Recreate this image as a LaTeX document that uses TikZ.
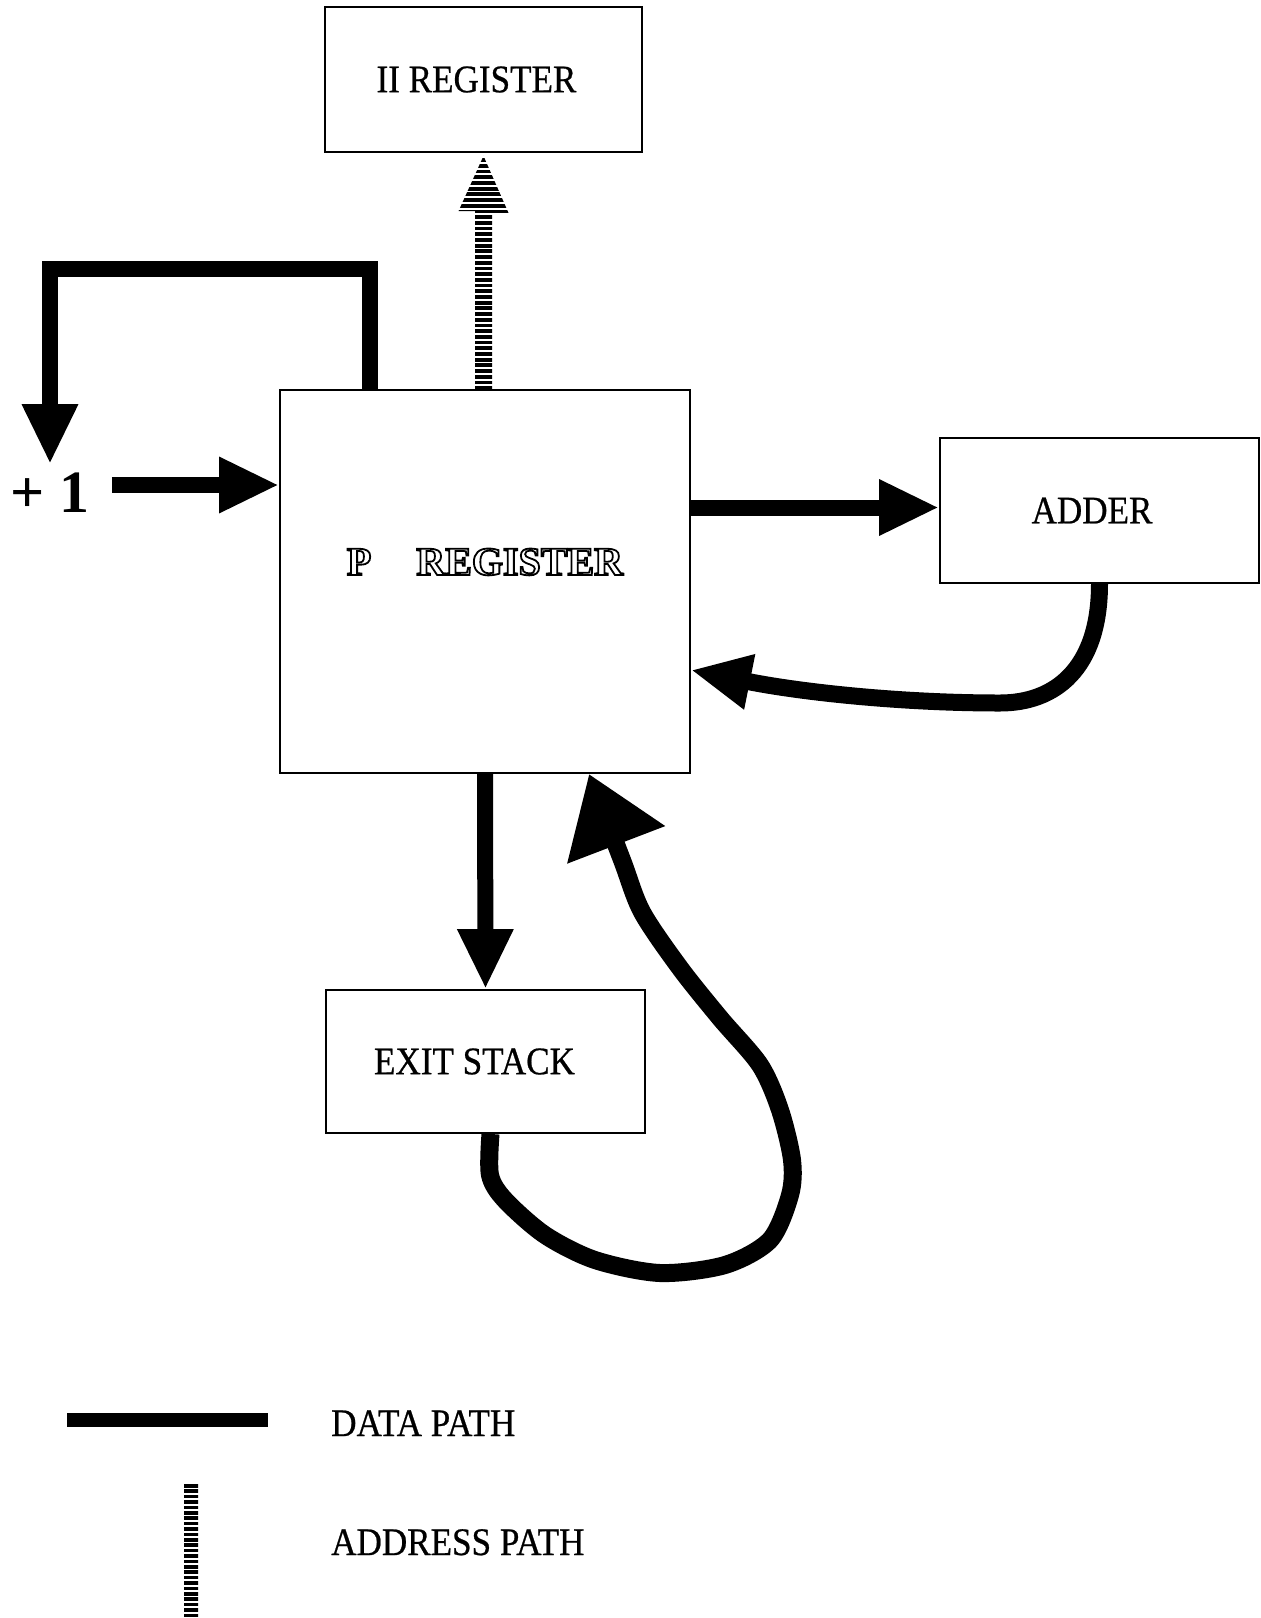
\documentclass[tikz,border=0pt]{standalone}
\usepackage{fontspec}
\setmainfont{Liberation Serif}
\newfontfamily\boxfont{Liberation Serif}[FakeStretch=0.9,FakeBold=0.6]
\usetikzlibrary{arrows.meta}
\newcommand\prtext{P\hspace{45pt}REGISTER}
\newcommand\padR[1]{\rule{#1}{0pt}}
\begin{document}
\begin{tikzpicture}[x=1pt,y=-1pt,
  box/.style={draw, line width=1.8pt, rectangle, inner sep=0pt, font=\boxfont\fontsize{39}{44}\selectfont},
  lbl/.style={inner sep=0pt, font=\boxfont\fontsize{39}{44}\selectfont},
  data/.style={line width=16pt, line join=miter},
  dtip/.style={-{Triangle[length=60pt,width=52pt]}},
  prfont/.style={inner sep=0pt, anchor=base, font=\fontsize{40}{44}\selectfont\bfseries},
]
\useasboundingbox (0,0) rectangle (1261,1618);

% boxes
\node[box, minimum width=317pt, minimum height=145pt] (ii) at (483.5,79.5) {II REGISTER\padR{14pt}};
\node[box, minimum width=410pt, minimum height=383pt] (preg) at (485,581.5) {};
\node[box, minimum width=319pt, minimum height=145pt] (adder) at (1099.5,510.5) {ADDER\padR{15pt}};
\node[box, minimum width=319pt, minimum height=143pt] (exit) at (485.5,1061.5) {EXIT STACK\padR{22pt}};
\node[inner sep=0pt, anchor=base, font=\fontsize{60}{66}\selectfont\bfseries] (plus) at (50,512) {+ 1};

% P REGISTER outlined text
\coordinate (prb) at ([yshift=6.5pt]preg.center);
\node[prfont] (prw) at (prb) {\special{pdf:code 2 Tr 1.8 w 1 1 1 rg 0 0 0 RG}\prtext\special{pdf:code 0 Tr 0 g}};

% data paths
\draw[data, dtip] ([xshift=-115pt]preg.north) -- ++(0,-120) -| ([yshift=8pt]plus.north);
\coordinate (pin) at ([yshift=96.5pt]preg.west);
\coordinate (pst) at ([xshift=22pt]plus.east |- pin);
\draw[data, dtip] (pst) -- (pin);
\coordinate (pout) at ([yshift=3pt]preg.east |- adder.west);
\draw[data, dtip] (pout) -- (pout -| adder.west);
\draw[data, dtip] (preg.south) -- (exit.north);
\draw[line width=17pt, dtip] (adder.south) .. controls +(0,85) and (1055,703) .. (1000,703)
   .. controls (900,703) and (800,692) .. ([yshift=-88.5pt]preg.east);
\draw[line width=18pt, line join=round, -{Triangle[length=76pt,width=100pt]}]
  plot[smooth, tension=0.5] coordinates {([xshift=5pt]exit.south) (490,1175) (505,1200) (545,1235)
   (595,1260) (660,1273) (725,1265) (770,1240) (790,1195) (792,1160) (780,1110) (760,1065)
   (720,1018) (680,968) (642,912) (622,860) ([xshift=104pt]preg.south)};

% address path (striped arrow)
\coordinate (abot) at (preg.north -| ii.south);
\begin{scope}
  \clip ([xshift=-8.5pt]abot) -- ++(0,-178) -- ++(-16.5,0) -- ([yshift=-3pt]ii.south)
     -- ++(25,57) -- ++(-16.5,0) -- ([xshift=8.5pt]abot) -- cycle;
  \foreach \k in {0,...,42}
    \fill (440,{390-\k*5.7}) rectangle (530,{386.2-\k*5.7});
\end{scope}

% legend
\coordinate (dl1) at (67,1420);
\coordinate (dl2) at (268,1420);
\draw[line width=14pt] (dl1) -- (dl2);
\node[lbl, anchor=base west] (ldata) at (331,1436) {DATA PATH};
\node[lbl, anchor=base west] (laddr) at (331,1555) {ADDRESS PATH};
\begin{scope}
  \clip (184,1484) rectangle (198,1618);
  \foreach \k in {0,...,25}
    \fill (180,{1484+\k*5.4}) rectangle (205,{1487.6+\k*5.4});
\end{scope}
\end{tikzpicture}
\end{document}
